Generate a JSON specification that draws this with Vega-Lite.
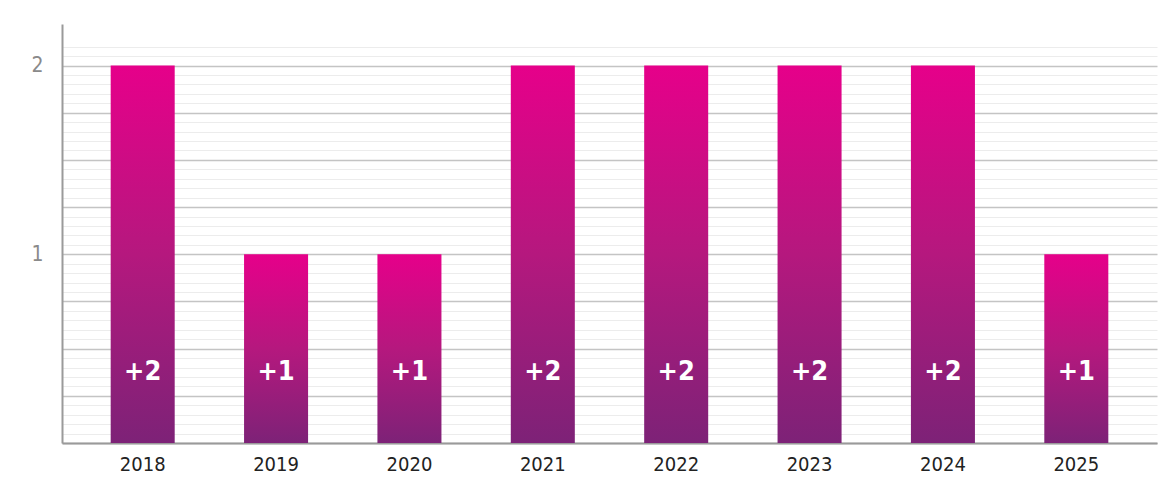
{
  "$schema": "https://vega.github.io/schema/vega-lite/v6.json",
  "autosize": {"type": "none"},
  "padding": {"left": 62, "top": 24, "right": 19, "bottom": 43},
  "width": 1095,
  "height": 419,
  "background": "white",
  "config": {"view": {"stroke": null}},
  "data": {"values": [
    {"year": "2018", "count": 2, "label": "+2"},
    {"year": "2019", "count": 1, "label": "+1"},
    {"year": "2020", "count": 1, "label": "+1"},
    {"year": "2021", "count": 2, "label": "+2"},
    {"year": "2022", "count": 2, "label": "+2"},
    {"year": "2023", "count": 2, "label": "+2"},
    {"year": "2024", "count": 2, "label": "+2"},
    {"year": "2025", "count": 1, "label": "+1"}
  ]},
  "encoding": {
    "x": {"field": "year", "type": "nominal", "sort": null,
      "scale": {"paddingInner": 0.52, "paddingOuter": 0.365},
      "axis": {"title": null, "labelAngle": 0, "ticks": false, "domainColor": "#9a9a9a", "domainWidth": 2,
        "labelFont": "DejaVu Sans Condensed", "labelFontSize": 20, "labelColor": "#222222", "labelPadding": 11, "grid": false}}
  },
  "layer": [
    {
      "mark": {"type": "bar", "color": {"gradient": "linear", "x1": 0, "y1": 0, "x2": 0, "y2": 1,
        "stops": [{"offset": 0, "color": "#e6008a"}, {"offset": 0.5, "color": "#b5187e"}, {"offset": 1, "color": "#7d2277"}]}},
      "encoding": {
        "y": {"field": "count", "type": "quantitative",
          "scale": {"domain": [0, 2.22], "nice": false},
          "axis": {"title": null, "ticks": false, "domainColor": "#9a9a9a", "domainWidth": 2,
            "values": [0,0.05,0.1,0.15,0.2,0.25,0.3,0.35,0.4,0.45,0.5,0.55,0.6,0.65,0.7,0.75,0.8,0.85,0.9,0.95,1,1.05,1.1,1.15,1.2,1.25,1.3,1.35,1.4,1.45,1.5,1.55,1.6,1.65,1.7,1.75,1.8,1.85,1.9,1.95,2,2.05,2.1],
            "labelExpr": "datum.value == 1 || datum.value == 2 ? format(datum.value, 'd') : ''",
            "labelFont": "DejaVu Sans Condensed", "labelFontSize": 21, "labelColor": "#8a8a8a", "labelPadding": 19,
            "labelOverlap": false,
            "grid": true,
            "gridColor": {"condition": {"test": "abs(datum.value*4 - round(datum.value*4)) < 0.001", "value": "#c4c4c4"}, "value": "#ececec"},
            "gridWidth": {"condition": {"test": "abs(datum.value*4 - round(datum.value*4)) < 0.001", "value": 1.5}, "value": 1}}}
      }
    },
    {
      "mark": {"type": "text", "color": "white", "font": "DejaVu Sans Condensed", "fontWeight": "bold", "fontSize": 27, "baseline": "middle", "dy": -71},
      "encoding": {
        "y": {"datum": 0, "type": "quantitative",
          "scale": {"domain": [0, 2.22], "nice": false},
          "axis": {"title": null, "ticks": false, "domainColor": "#9a9a9a", "domainWidth": 2,
            "values": [0,0.05,0.1,0.15,0.2,0.25,0.3,0.35,0.4,0.45,0.5,0.55,0.6,0.65,0.7,0.75,0.8,0.85,0.9,0.95,1,1.05,1.1,1.15,1.2,1.25,1.3,1.35,1.4,1.45,1.5,1.55,1.6,1.65,1.7,1.75,1.8,1.85,1.9,1.95,2,2.05,2.1],
            "labelExpr": "datum.value == 1 || datum.value == 2 ? format(datum.value, 'd') : ''",
            "labelFont": "DejaVu Sans Condensed", "labelFontSize": 21, "labelColor": "#8a8a8a", "labelPadding": 19,
            "labelOverlap": false,
            "grid": true,
            "gridColor": {"condition": {"test": "abs(datum.value*4 - round(datum.value*4)) < 0.001", "value": "#c4c4c4"}, "value": "#ececec"},
            "gridWidth": {"condition": {"test": "abs(datum.value*4 - round(datum.value*4)) < 0.001", "value": 1.5}, "value": 1}}},
        "text": {"field": "label", "type": "nominal"}
      }
    }
  ]
}
